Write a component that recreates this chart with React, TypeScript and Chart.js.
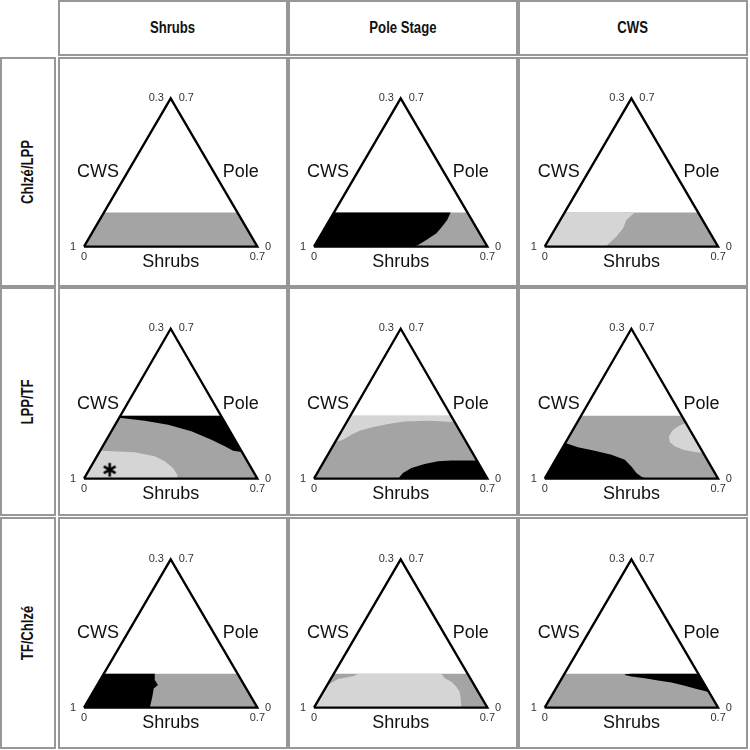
import React, { useEffect, useRef } from "react";
import { Chart, registerables } from "chart.js";
Chart.register(...registerables);

// ---------- text ----------
const columnTitles = ["Shrubs", "Pole Stage", "CWS"];
const rowTitles = ["Chlzé/LPP", "LPP/TF", "TF/Chlzé"];
const axisNames = ["CWS", "Pole", "Shrubs"];
const apexTicks = ["0.3", "0.7"];
const leftCornerTicks = ["1", "0"];
const rightCornerTicks = ["0", "0.7"];

// ---------- data: (u = position along base 0..1, v = height fraction 0..1) ----------
const triangle = [[0, 0], [1, 0], [0.5, 1], [0, 0]];
const bandTop = [0.231, 0.42, 0.229];

const p12Black = [[-0.2, 0], [0.571, 0], [0.6, 0.011], [0.648, 0.045], [0.706, 0.09], [0.738, 0.135], [0.768, 0.18], [0.788, 0.231], [-0.2, 0.231]];
const p13Light = [[-0.2, 0], [0.35, 0], [0.413, 0.067], [0.452, 0.124], [0.471, 0.18], [0.519, 0.231], [-0.2, 0.231]];

const p21Black = [[-0.2, 0.42], [1.2, 0.42], [1.2, 0.178], [0.908, 0.178], [0.86, 0.187], [0.812, 0.216], [0.735, 0.26], [0.619, 0.316], [0.485, 0.36], [0.35, 0.387], [0.215, 0.405], [-0.2, 0.405]];
const p21Light = [[-0.2, 0], [0.542, 0], [0.538, 0.027], [0.513, 0.071], [0.465, 0.116], [0.408, 0.149], [0.292, 0.176], [0.1, 0.187], [-0.2, 0.187]];
const p21Marker = [[0.148, 0.06]];

const p22Light = [[-0.2, 0.42], [1.2, 0.42], [1.2, 0.378], [0.812, 0.378], [0.658, 0.387], [0.523, 0.382], [0.427, 0.364], [0.331, 0.342], [0.263, 0.32], [0.215, 0.293], [0.167, 0.26], [0.125, 0.244], [-0.2, 0.244]];
const p22Black = [[0.485, 0], [0.513, 0.038], [0.562, 0.071], [0.638, 0.098], [0.715, 0.116], [0.792, 0.122], [1.2, 0.122], [1.2, 0]];

const p23Black = [[-0.2, 0.238], [0.119, 0.238], [0.192, 0.209], [0.288, 0.187], [0.385, 0.16], [0.462, 0.127], [0.5, 0.082], [0.529, 0.038], [0.558, 0.013], [0.587, 0], [-0.2, 0]];
const p23Light = [[1.2, 0.371], [0.813, 0.371], [0.769, 0.349], [0.735, 0.32], [0.717, 0.282], [0.721, 0.244], [0.75, 0.216], [0.798, 0.193], [0.865, 0.178], [0.915, 0.171], [1.2, 0.171]];

const p31Black = [[-0.2, 0.229], [0.408, 0.229], [0.408, 0.187], [0.427, 0.153], [0.402, 0.13], [0.394, 0.074], [0.385, 0.029], [0.379, 0], [-0.2, 0]];
const p32Light = [[0.254, 0.229], [0.735, 0.229], [0.754, 0.198], [0.792, 0.175], [0.821, 0.142], [0.84, 0.108], [0.846, 0.063], [0.85, 0], [-0.2, 0], [-0.2, 0.153], [0.081, 0.153], [0.11, 0.175], [0.138, 0.193], [0.187, 0.204], [0.235, 0.216]];
const p33Black = [[0.462, 0.225], [0.5, 0.229], [1.2, 0.229], [1.2, 0.103], [0.952, 0.103], [0.923, 0.112], [0.865, 0.13], [0.808, 0.148], [0.731, 0.169], [0.654, 0.184], [0.577, 0.198], [0.5, 0.211], [0.462, 0.22]];

// ---------- styles ----------
const BLACK = "#000000";
const DARK = "#a4a4a4";
const LIGHT = "#d5d5d5";
const FONT = '"Liberation Sans", Arial, Helvetica, sans-serif';

const panels = [
  [
    { overlays: [] as { color: string; pts: number[][] }[] },
    { overlays: [{ color: BLACK, pts: p12Black }] },
    { overlays: [{ color: LIGHT, pts: p13Light }] },
  ],
  [
    { overlays: [{ color: BLACK, pts: p21Black }, { color: LIGHT, pts: p21Light }], marker: p21Marker },
    { overlays: [{ color: LIGHT, pts: p22Light }, { color: BLACK, pts: p22Black }] },
    { overlays: [{ color: BLACK, pts: p23Black }, { color: LIGHT, pts: p23Light }] },
  ],
  [
    { overlays: [{ color: BLACK, pts: p31Black }] },
    { overlays: [{ color: LIGHT, pts: p32Light }] },
    { overlays: [{ color: BLACK, pts: p33Black }] },
  ],
];

// ---------- layout (pixels) ----------
const BW = 2; // box border width
const colX = [58, 288, 518];
const colW = 230;
const rowY = [57, 287, 517];
const rowH = [230, 229, 232];
const triBaseLeft = [84, 314, 544.7];
const triBaseWidth = 173.4;
const triBaseY = [246.7, 478.7, 707.7];
const triApexY = [98.3, 328.7, 559.3];

const BIG = `18px ${FONT}`;
const SMALL = `11px ${FONT}`;
const labelLayout = [
  { text: axisNames[0], u: 0.081, v: 0.501, font: BIG, color: "#111" },
  { text: axisNames[1], u: 0.904, v: 0.501, font: BIG, color: "#111" },
  { text: axisNames[2], u: 0.5, v: -0.101, font: BIG, color: "#111" },
  { text: apexTicks[0], u: 0.417, v: 1.004, font: SMALL, color: "#333" },
  { text: apexTicks[1], u: 0.59, v: 1.004, font: SMALL, color: "#333" },
  { text: leftCornerTicks[0], u: -0.063, v: 0.0, font: SMALL, color: "#333" },
  { text: leftCornerTicks[1], u: 0.0, v: -0.067, font: SMALL, color: "#333" },
  { text: rightCornerTicks[0], u: 1.062, v: 0.0, font: SMALL, color: "#333" },
  { text: rightCornerTicks[1], u: 1.0, v: -0.067, font: SMALL, color: "#333" },
];

function makeAsterisk(): HTMLCanvasElement {
  const c = document.createElement("canvas");
  c.width = 16;
  c.height = 16;
  const g = c.getContext("2d")!;
  g.strokeStyle = "#000";
  g.lineWidth = 2.6;
  for (const a of [90, 30, 150]) {
    const r = (a * Math.PI) / 180;
    g.beginPath();
    g.moveTo(8 - 6.8 * Math.cos(r), 8 - 6.8 * Math.sin(r));
    g.lineTo(8 + 6.8 * Math.cos(r), 8 + 6.8 * Math.sin(r));
    g.stroke();
  }
  return c;
}

const triPlugin = {
  id: "triPlugin",
  beforeDatasetsDraw(chart: any) {
    const { ctx, scales } = chart;
    ctx.save();
    ctx.beginPath();
    triangle.forEach(([u, v], i) => {
      const px = scales.x.getPixelForValue(u);
      const py = scales.y.getPixelForValue(v);
      if (i === 0) ctx.moveTo(px, py);
      else ctx.lineTo(px, py);
    });
    ctx.closePath();
    ctx.clip();
    chart.$triClip = true;
  },
  afterDatasetDraw(chart: any, args: any) {
    const ds = chart.data.datasets[args.index];
    if (ds.endClip && chart.$triClip) {
      chart.ctx.restore();
      chart.$triClip = false;
    }
  },
  afterDatasetsDraw(chart: any) {
    if (chart.$triClip) {
      chart.ctx.restore();
      chart.$triClip = false;
    }
  },
  afterDraw(chart: any) {
    const { ctx, scales } = chart;
    ctx.save();
    ctx.textAlign = "center";
    ctx.textBaseline = "middle";
    for (const l of labelLayout) {
      ctx.font = l.font;
      ctx.fillStyle = l.color;
      ctx.fillText(l.text, scales.x.getPixelForValue(l.u), scales.y.getPixelForValue(l.v));
    }
    ctx.restore();
  },
};

const toXY = (pts: number[][]) => pts.map(([u, v]) => ({ x: u, y: v }));

function Panel({ r, c }: { r: number; c: number }) {
  const ref = useRef<HTMLCanvasElement>(null);
  const cw = colW - 2 * BW;
  const ch = rowH[r] - 2 * BW;
  useEffect(() => {
    const spec: any = panels[r][c];
    const ox = colX[c] + BW;
    const oy = rowY[r] + BW;
    const bx0 = triBaseLeft[c] - ox;
    const k = triBaseWidth;
    const by0 = triBaseY[r] - oy;
    const ky = triBaseY[r] - triApexY[r];
    const xMin = -bx0 / k;
    const xMax = (cw - bx0) / k;
    const yMax = by0 / ky;
    const yMin = -(ch - by0) / ky;

    const fillDs = (pts: number[][], color: string) => ({
      data: toXY(pts),
      backgroundColor: color,
      borderColor: color,
      borderWidth: 0,
      pointRadius: 0,
      fill: "shape",
      tension: 0,
      clip: false,
    });
    const top = bandTop[r];
    const band = [[-0.2, 0], [1.2, 0], [1.2, top], [-0.2, top]];
    const datasets: any[] = [fillDs(band, DARK)];
    spec.overlays.forEach((o: any) => datasets.push(fillDs(o.pts, o.color)));
    datasets[datasets.length - 1].endClip = true;
    if (spec.marker) {
      datasets.push({
        data: toXY(spec.marker),
        showLine: false,
        pointStyle: makeAsterisk(),
        pointRadius: 7,
        clip: false,
      });
    }
    datasets.push({
      data: toXY(triangle),
      borderColor: "#000",
      borderWidth: 2.3,
      pointRadius: 0,
      fill: false,
      tension: 0,
      clip: false,
      borderJoinStyle: "miter",
    });
    const N = datasets.length;
    datasets.forEach((d, i) => (d.order = N - i));

    const chart = new Chart(ref.current!, {
      type: "line",
      data: { datasets },
      options: {
        animation: false,
        responsive: false,
        events: [],
        layout: { padding: 0, autoPadding: false },
        plugins: { legend: { display: false }, tooltip: { enabled: false }, title: { display: false } },
        scales: {
          x: { type: "linear", display: false, min: xMin, max: xMax },
          y: { type: "linear", display: false, min: yMin, max: yMax },
        },
      } as any,
      plugins: [triPlugin as any],
    });
    return () => chart.destroy();
  }, [r, c]);
  return (
    <div style={{ ...boxStyle, left: colX[c], top: rowY[r], width: colW, height: rowH[r] }}>
      <canvas ref={ref} width={cw} height={ch} style={{ position: "absolute", left: 0, top: 0, display: "block" }} />
    </div>
  );
}

const boxStyle: React.CSSProperties = {
  position: "absolute",
  boxSizing: "border-box",
  border: `${BW}px solid #979797`,
  background: "#fff",
};

const titleText: React.CSSProperties = {
  display: "inline-block",
  whiteSpace: "nowrap",
  fontWeight: "bold",
  fontSize: 16,
  color: "#111",
};

export default function App() {
  return (
    <div style={{ position: "absolute", left: 0, top: 0, width: 750, height: 750, background: "#fff", fontFamily: FONT, overflow: "hidden" }}>
      {columnTitles.map((t, c) => (
        <div key={t} style={{ ...boxStyle, left: colX[c], top: 0, width: colW, height: 56, display: "flex", alignItems: "center", justifyContent: "center" }}>
          <span style={{ ...titleText, transform: "scaleX(0.82)" }}>{t}</span>
        </div>
      ))}
      {rowTitles.map((t, r) => (
        <div key={t} style={{ ...boxStyle, left: 0, top: rowY[r], width: 56, height: rowH[r], display: "flex", alignItems: "center", justifyContent: "center" }}>
          <span style={{ ...titleText, transform: "rotate(-90deg) scaleX(0.82)" }}>{t}</span>
        </div>
      ))}
      {[0, 1, 2].map((r) => [0, 1, 2].map((c) => <Panel key={`${r}-${c}`} r={r} c={c} />))}
    </div>
  );
}
